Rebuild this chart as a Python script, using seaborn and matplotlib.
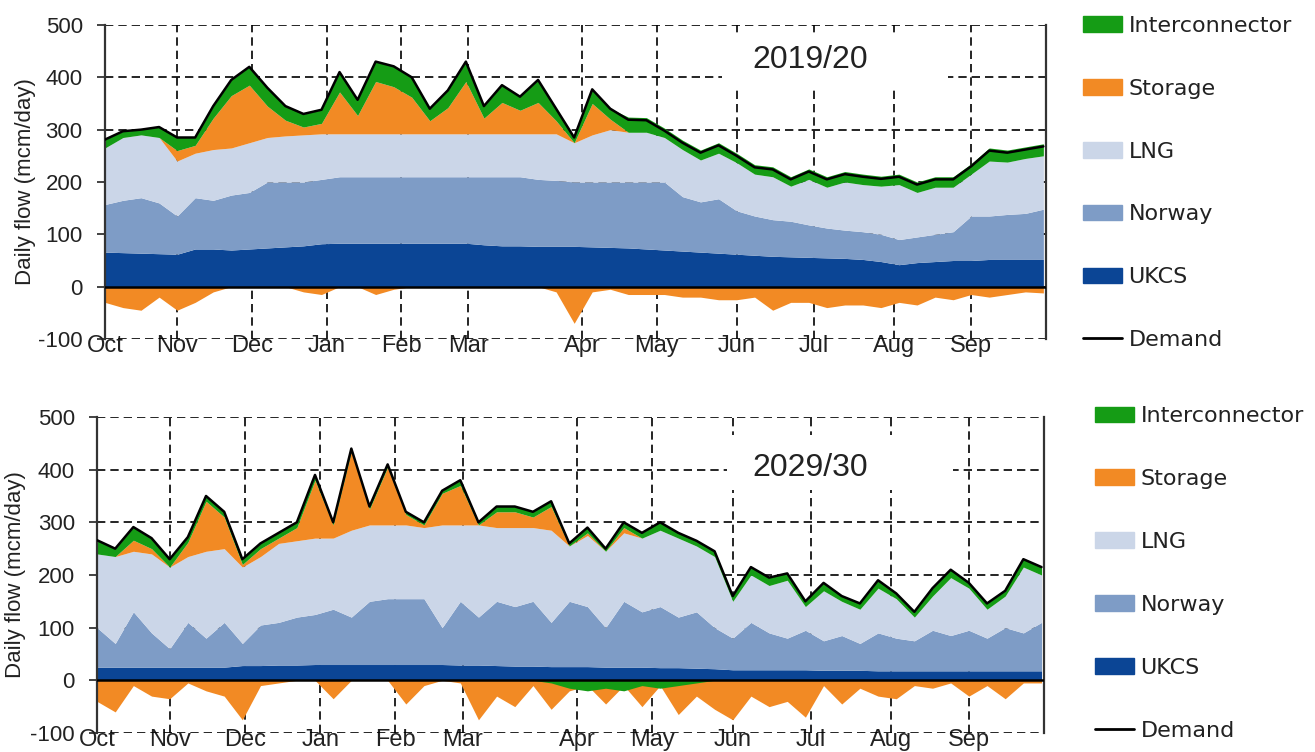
import numpy as np
import pandas as pd
import matplotlib
matplotlib.use("Agg")
import matplotlib.pyplot as plt
from matplotlib.patches import Patch, Rectangle
from matplotlib.lines import Line2D
import seaborn as sns

# 1. Data (weekly samples, mcm/day)
days = list(range(0, 365, 7))
month_labels = ['Oct', 'Nov', 'Dec', 'Jan', 'Feb', 'Mar', 'Apr', 'May', 'Jun', 'Jul', 'Aug', 'Sep']
month_days = [0, 28, 57, 86, 115, 141, 185, 214, 245, 275, 306, 336]

# 2019/20
top_ukcs = [66, 65, 64, 63, 62, 72, 72, 70, 72, 74, 76, 78, 82,
            83, 83, 83, 83, 83, 83, 83, 83, 80, 78, 78, 77, 77, 77,
            76, 75, 74, 72, 70, 68, 66, 64, 62, 60, 58, 57, 56, 55,
            54, 52, 48, 42, 46, 48, 50, 50, 52, 52, 52, 52]
top_norway = [91, 100, 106, 97, 73, 98, 93, 105, 108, 126, 124, 122, 123,
              127, 127, 127, 127, 127, 127, 127, 127, 130, 132, 132, 128, 126, 123,
              124, 125, 126, 128, 130, 104, 96, 104, 83, 75, 70, 68, 62, 57,
              54, 53, 52, 48, 49, 52, 55, 85, 83, 86, 88, 96]
top_lng = [108, 120, 120, 125, 105, 85, 97, 90, 95, 85, 88, 90, 87,
           82, 82, 82, 82, 82, 82, 82, 82, 82, 82, 82, 87, 89, 75,
           90, 100, 95, 95, 85, 90, 80, 87, 92, 80, 82, 67, 87, 78,
           92, 90, 92, 105, 85, 90, 85, 80, 105, 100, 105, 102]
top_storage = [0, 0, 0, 0, 20, 15, 60, 100, 110, 60, 30, 15, 20,
               80, 35, 100, 90, 70, 25, 50, 100, 30, 60, 45, 60, 25, 0,
               60, 20, 0, 0, 0, 0, 0, 0, 0, 0, 0, 0, 0, 0,
               0, 0, 0, 0, 0, 0, 0, 0, 0, 0, 0, 0]
top_inter = [16, 12, 10, 20, 25, 15, 23, 30, 35, 35, 27, 25, 26,
             38, 30, 38, 39, 38, 23, 33, 38, 23, 33, 26, 43, 23, 10,
             27, 20, 29, 28, 18, 18, 19, 20, 18, 18, 19, 18, 20, 20,
             20, 20, 19, 20, 20, 20, 20, 20, 25, 23, 22, 23]
top_storage_in = [-30, -40, -45, -20, -45, -30, -10, 0, 0, 0, 0, -10, -15,
                  0, 0, -15, -5, 0, 0, 0, 0, 0, 0, 0, 0, -10, -70,
                  -10, -5, -15, -15, -15, -20, -20, -25, -25, -20, -45, -30, -30, -40,
                  -35, -35, -40, -30, -35, -20, -25, -15, -20, -15, -10, -12]
top_inter_out = [0] * 53
top_demand = [281, 297, 300, 305, 285, 285, 345, 395, 420, 380, 345, 330, 338,
              410, 357, 430, 421, 400, 340, 375, 430, 345, 385, 363, 395, 340, 285,
              377, 340, 319, 318, 298, 275, 256, 270, 250, 228, 224, 205, 220, 205,
              215, 210, 206, 210, 195, 205, 205, 230, 260, 256, 262, 268]

# 2029/30
bot_ukcs = [25, 25, 25, 25, 25, 25, 25, 25, 28, 28, 29, 29, 30,
            30, 30, 30, 30, 30, 30, 30, 29, 29, 28, 27, 27, 26, 26,
            26, 25, 25, 25, 24, 24, 23, 22, 20, 20, 20, 20, 20, 19,
            19, 19, 18, 18, 18, 18, 18, 18, 18, 18, 18, 18]
bot_norway = [75, 45, 105, 65, 35, 85, 55, 85, 42, 77, 81, 91, 95,
              105, 90, 120, 125, 125, 125, 70, 121, 91, 122, 113, 123, 84, 124,
              114, 75, 125, 105, 116, 96, 107, 78, 60, 90, 70, 60, 75, 56,
              66, 51, 72, 62, 57, 77, 67, 77, 62, 82, 72, 92]
bot_lng = [140, 165, 115, 150, 155, 125, 165, 140, 145, 130, 150, 145, 145,
           135, 165, 145, 140, 140, 135, 195, 145, 175, 140, 150, 140, 175, 105,
           135, 145, 130, 140, 145, 150, 125, 135, 70, 90, 90, 110, 45, 95,
           65, 65, 85, 75, 45, 65, 110, 80, 55, 60, 125, 90]
bot_storage = [0, 0, 21, 10, 0, 27, 95, 60, 5, 15, 10, 25, 110,
               25, 150, 30, 110, 20, 5, 60, 75, 0, 30, 30, 20, 45, 0,
               5, 0, 10, 0, 0, 0, 0, 0, 0, 0, 0, 0, 0, 0,
               0, 0, 0, 0, 0, 0, 0, 0, 0, 0, 0, 0]
bot_inter = [26, 15, 25, 20, 15, 10, 10, 10, 10, 10, 10, 10, 10,
             5, 5, 5, 5, 5, 5, 5, 10, 5, 10, 10, 10, 10, 5,
             10, 5, 10, 10, 15, 10, 10, 10, 10, 15, 15, 13, 10, 15,
             10, 11, 15, 10, 10, 15, 15, 10, 11, 10, 15, 15]
bot_storage_in = [-40, -60, -10, -30, -35, -5, -20, -30, -75, -10, -5, 0, 0,
                  -35, 0, 0, 0, -45, -10, 0, -5, -75, -30, -50, -10, -55, -20,
                  -10, -45, -10, -50, -10, -65, -30, -55, -75, -30, -50, -40, -70, -10,
                  -45, -15, -30, -35, -10, -15, -5, -30, -10, -35, -5, -5]
bot_inter_out = [0, 0, 0, 0, 0, 0, 0, 0, 0, 0, 0, 0, 0,
                 0, 0, 0, 0, 0, 0, 0, 0, 0, 0, 0, 0, -5, -15,
                 -20, -15, -20, -10, -15, -10, -5, 0, 0, 0, 0, 0, 0, 0,
                 0, 0, 0, 0, 0, 0, 0, 0, 0, 0, 0, 0]
bot_demand = [266, 250, 291, 270, 230, 272, 350, 320, 230, 260, 280, 300, 390,
              300, 440, 330, 410, 320, 300, 360, 380, 300, 330, 330, 320, 340, 260,
              290, 250, 300, 280, 300, 280, 265, 245, 160, 215, 195, 203, 150, 185,
              160, 146, 190, 165, 130, 175, 210, 185, 146, 170, 230, 215]

# colours
c_inter = '#159c15'
c_storage = '#f28a24'
c_lng = '#cbd6e8'
c_norway = '#7e9cc6'
c_ukcs = '#0b4595'

# 2. Style
sns.set_style('white')
plt.rcParams['font.family'] = ['Liberation Sans', 'DejaVu Sans']
plt.rcParams['axes.unicode_minus'] = False
text_col = '#222222'


def draw_panel(ax, ukcs, norway, lng, storage, inter, storage_in, inter_out, demand,
               title, box, ypad):
    df = pd.DataFrame({'day': days, 'ukcs': ukcs, 'norway': norway, 'lng': lng,
                       'storage': storage, 'inter': inter, 'storage_in': storage_in,
                       'inter_out': inter_out, 'demand': demand})
    base = np.zeros(len(df))
    for col, colr in [('ukcs', c_ukcs), ('norway', c_norway), ('lng', c_lng),
                      ('storage', c_storage), ('inter', c_inter)]:
        top = base + df[col].values
        ax.fill_between(df['day'], base, top, color=colr, linewidth=0, zorder=1)
        base = top
    ax.fill_between(df['day'], 0, df['storage_in'], color=c_storage, linewidth=0, zorder=1)
    ax.fill_between(df['day'], 0, df['inter_out'], color=c_inter, linewidth=0, zorder=1.1)
    sns.lineplot(data=df, x='day', y='demand', ax=ax, color='black', linewidth=1.8, zorder=3)
    ax.axhline(0, color='black', linewidth=1.8, zorder=3)

    ax.set_xlim(0, 365)
    ax.set_ylim(-100, 500)
    ax.set_yticks([-100, 0, 100, 200, 300, 400, 500])
    ax.set_xticks(month_days)
    ax.set_xticklabels(month_labels)
    ax.set_xlabel('')
    ax.set_ylabel('Daily flow (mcm/day)', fontsize=16, color=text_col, labelpad=ypad)
    ax.tick_params(axis='y', direction='out', length=6, width=1.2, pad=10,
                   labelsize=16, colors=text_col, left=True)
    ax.tick_params(axis='x', length=0, pad=-3, labelsize=17, colors=text_col)
    ax.grid(True, color='black', linestyle=(0, (5, 3)), linewidth=1.2)
    ax.set_axisbelow(True)
    for s in ['top', 'bottom']:
        ax.spines[s].set_visible(False)
    for s in ['left', 'right']:
        ax.spines[s].set_visible(True)
        ax.spines[s].set_color('#333333')
        ax.spines[s].set_linewidth(1.6)
    # white box behind the year label
    ax.add_patch(Rectangle((box[0], box[1]), box[2], box[3], transform=ax.transAxes,
                           facecolor='white', edgecolor='none', zorder=0.8))
    ax.text(title[1], title[2], title[0], transform=ax.transAxes, fontsize=23,
            color=text_col, ha='center', va='center', zorder=4)


fig = plt.figure(figsize=(13.15, 7.52), dpi=100)
ax1 = fig.add_axes([0.0798, 0.5492, 0.7156, 0.4176])
ax2 = fig.add_axes([0.0738, 0.0253, 0.7202, 0.4202])

draw_panel(ax1, top_ukcs, top_norway, top_lng, top_storage, top_inter,
           top_storage_in, top_inter_out, top_demand,
           ('2019/20', 0.749, 0.889), (0.656, 0.799, 0.240, 0.176), 1.5)
draw_panel(ax2, bot_ukcs, bot_norway, bot_lng, bot_storage, bot_inter,
           bot_storage_in, bot_inter_out, bot_demand,
           ('2029/30', 0.753, 0.839), (0.665, 0.769, 0.239, 0.174), 3)

handles = [Patch(color=c_inter, label='Interconnector'),
           Patch(color=c_storage, label='Storage'),
           Patch(color=c_lng, label='LNG'),
           Patch(color=c_norway, label='Norway'),
           Patch(color=c_ukcs, label='UKCS'),
           Line2D([0], [0], color='black', linewidth=2, label='Demand')]
for anchor in [(0.8236, 0.979), (0.8327, 0.460)]:
    fig.legend(handles=handles, loc='upper left', bbox_to_anchor=anchor, frameon=False,
               prop={'family': 'DejaVu Sans', 'size': 16}, labelspacing=1.93,
               handlelength=1.75, handleheight=0.7, handletextpad=0.3,
               borderpad=0, borderaxespad=0, labelcolor=text_col)

plt.savefig('out.png', dpi=100)
plt.close()
